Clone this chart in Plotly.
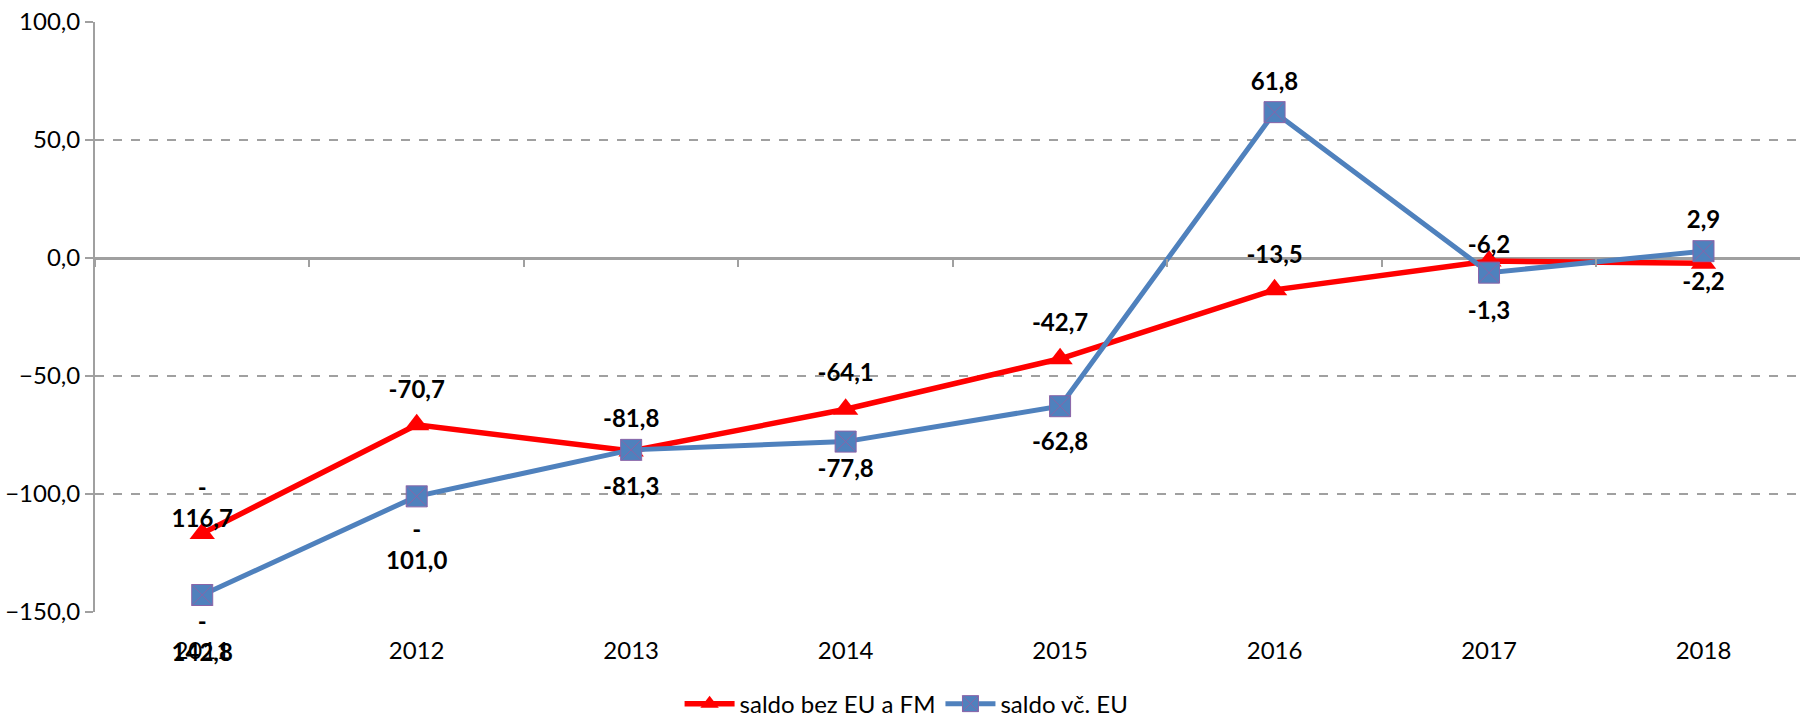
import plotly.graph_objects as go

years = ["2011", "2012", "2013", "2014", "2015", "2016", "2017", "2018"]
saldo_bez_eu = [-116.7, -70.7, -81.8, -64.1, -42.7, -13.5, -1.3, -2.2]
saldo_vc_eu = [-142.8, -101.0, -81.3, -77.8, -62.8, 61.8, -6.2, 2.9]

# where each data label sits (above / below the point) and how far away
red_pos = ["top", "top", "top", "top", "top", "top", "bottom", "bottom"]
red_gap = [0, 32, 28, 34, 34, 32, 62, 13]
blue_pos = ["bottom", "bottom", "bottom", "bottom", "bottom", "top", "top", "top"]
blue_gap = [26, 36, 42, 26, 40, 24, 20, 26]

FONT = "Lato"
RED = "#FF0000"
BLUE = "#4F81BD"
GRID = "#A0A0A0"


def fmt(v):
    s = f"{v:.1f}".replace(".", ",")
    if abs(v) >= 100 and v < 0:
        s = "-<br>" + s[1:]
    return "<b>" + s + "</b>"


fig = go.Figure()
fig.add_trace(go.Scatter(
    x=years, y=saldo_bez_eu, name="saldo bez EU a FM", mode="lines+markers",
    line=dict(color=RED, width=5.5),
    marker=dict(symbol="triangle-up", size=22, color=RED),
))
fig.add_trace(go.Scatter(
    x=years, y=saldo_vc_eu, name="saldo vč. EU", mode="lines+markers",
    line=dict(color=BLUE, width=5),
    marker=dict(symbol="square-x", size=21, color=BLUE,
                line=dict(color="#8A64A8", width=1)),
))

# data labels: invisible markers just set the distance of the text from the point
for vals, pos, gap in ((saldo_bez_eu, red_pos, red_gap), (saldo_vc_eu, blue_pos, blue_gap)):
    fig.add_trace(go.Scatter(
        x=years, y=vals, mode="markers+text", text=[fmt(v) for v in vals],
        textposition=[p + " center" for p in pos],
        textfont=dict(family=FONT, size=24, color="#000"),
        marker=dict(size=gap, opacity=0), cliponaxis=False,
        showlegend=False, hoverinfo="skip",
    ))

# invisible helper so the tick axis on the zero line has something to draw
fig.add_trace(go.Scatter(x=years, y=[0] * len(years), xaxis="x2", mode="markers",
                         marker=dict(opacity=0), showlegend=False, hoverinfo="skip"))

fig.update_layout(
    width=1800, height=721,
    margin=dict(l=95, r=0, t=22, b=109, autoexpand=False),
    paper_bgcolor="white", plot_bgcolor="white",
    font=dict(family=FONT, size=24, color="#000"),
    showlegend=True,
    legend=dict(orientation="h", x=0.476, xanchor="center", y=-0.156, yanchor="middle",
                font=dict(size=24), itemwidth=50),
    xaxis=dict(type="category", range=[-0.5, 7.45], showgrid=False, showline=False,
               ticks="", zeroline=False, ticklabelstandoff=22),
    xaxis2=dict(type="category", range=[-0.5, 7.45], overlaying="x", anchor="free",
                position=0.6, showticklabels=False, showgrid=False, showline=False,
                ticks="outside", tickson="boundaries", ticklen=8, tickwidth=2,
                tickcolor=GRID),
    yaxis=dict(range=[-150, 100], dtick=50, tickformat=".1f",
               showgrid=True, gridcolor=GRID, gridwidth=2, griddash="dash",
               showline=True, linecolor=GRID, linewidth=2,
               ticks="outside", ticklen=8, tickwidth=2, tickcolor=GRID,
               zeroline=True, zerolinecolor=GRID, zerolinewidth=2.5),
    separators=",.",
)

fig.write_html("out.html", config={"displayModeBar": False},
               post_script="document.body.style.margin='0';")
